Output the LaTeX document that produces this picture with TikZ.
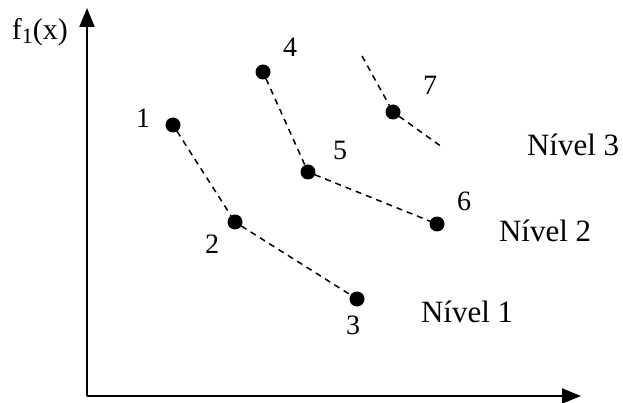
\documentclass[tikz,border=0pt]{standalone}
\usepackage{fontspec}
\setmainfont{Liberation Serif}
\usetikzlibrary{arrows.meta}

\begin{document}
\begin{tikzpicture}[x=1pt, y=-1pt,
            every node/.style = {inner sep=0pt, outer sep=0pt},
            ponto/.style = {circle, fill=black, minimum size=15pt},
            numero/.style = {anchor=base, font=\fontsize{28}{28}\selectfont},
            nivel/.style = {anchor=base west, font=\fontsize{31}{31}\selectfont},
            eixo/.style = {line width=2pt, -{Triangle[length=19pt,width=15pt]}},
            frente/.style = {dashed, line width=1.5pt, dash pattern=on 6pt off 5pt}]
    \useasboundingbox (0,0) rectangle (623,403);
    % eixos
    \coordinate (origem) at (87,396);
    \coordinate (topo) at (87,8);
    \coordinate (fim) at (581,396);
    \draw[eixo] (origem) -- (topo);
    \draw[eixo] (origem) -- (fim);
    \node[anchor=base west, font=\fontsize{30}{30}\selectfont] (fx) at (12,40)
        {f\raisebox{-0.12em}{\fontsize{22}{22}\selectfont 1}(x)};
    % pontos
    \node[ponto] (p1) at (173,125) {};
    \node[ponto] (p2) at (235,222) {};
    \node[ponto] (p3) at (357,299) {};
    \node[ponto] (p4) at (263,72) {};
    \node[ponto] (p5) at (308,172) {};
    \node[ponto] (p6) at (437,224) {};
    \node[ponto] (p7) at (393,112) {};
    \coordinate (c7a) at (362,56);
    \coordinate (c7b) at (442,147);
    % frentes
    \draw[frente] (p1) -- (p2) -- (p3);
    \draw[frente] (p4) -- (p5) -- (p6);
    \draw[frente] (c7a) -- (p7) -- (c7b);
    % numeros
    \node[numero] (n1) at (143,128) {1};
    \node[numero] (n2) at (212,254) {2};
    \node[numero] (n3) at (353,334) {3};
    \node[numero] (n4) at (290,57) {4};
    \node[numero] (n5) at (340,160) {5};
    \node[numero] (n6) at (464,211) {6};
    \node[numero] (n7) at (430,95) {7};
    % niveis
    \node[nivel] (nv1) at (421,322) {Nível 1};
    \node[nivel] (nv2) at (499,241) {Nível 2};
    \node[nivel] (nv3) at (527,156) {Nível 3};
\end{tikzpicture}
\end{document}
